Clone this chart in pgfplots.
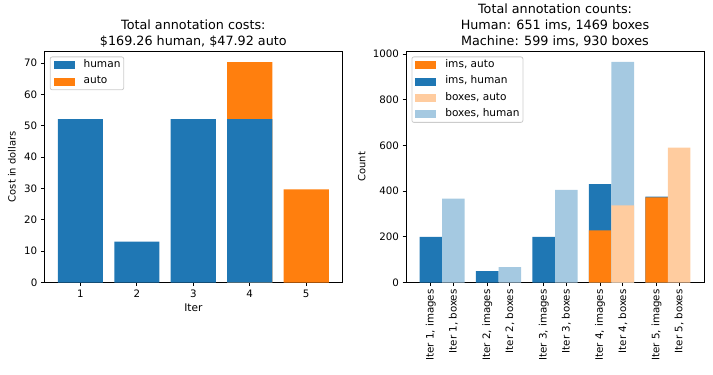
\documentclass[border=0pt]{standalone}
\usepackage{fontspec}
\setmainfont{DejaVu Sans}
\usepackage{pgfplots}
\pgfplotsset{compat=1.18}
\definecolor{tblue}{HTML}{1F77B4}
\definecolor{torange}{HTML}{FF7F0E}
\definecolor{lblue}{RGB}{165,201,225}
\definecolor{lorange}{RGB}{255,204,159}
\pgfplotsset{
  patch/.style={legend image code/.code={\fill[#1, sharp corners] (0bp,-3.5bp) rectangle (20bp,3.5bp);}},
  myaxis/.style={
    scale only axis, width=298bp, height=231.5bp,
    axis line style={line width=0.8bp},
    every tick/.style={black, line width=0.8bp},
    tick align=outside, major tick length=3.5bp,
    xtick pos=left, ytick pos=left,
    ticklabel style={font=\fontsize{10.3}{12}\selectfont},
    /pgf/number format/assume math mode=true,
    /pgf/number format/1000 sep={},
    label style={font=\fontsize{10.6}{12}\selectfont},
    title style={font=\fontsize{12.8}{16}\selectfont, align=center, at={(0.5,1)}, anchor=south, inner sep=0pt, yshift=-2.5bp},
    xmin=0.36, xmax=5.64, ymin=0,
    enlargelimits=false,
    legend cell align=left,
    legend style={at={(0,1)}, anchor=north west, xshift=5.5bp, yshift=-5.5bp,
      draw=black!20, line width=0.8bp, rounded corners=2bp, fill=white,
      font=\fontsize{10.6}{12}\selectfont, inner xsep=3.3bp, inner ysep=3.3bp,
      row sep=6.3bp,
      nodes={inner xsep=0pt, inner ysep=0pt, text height=7.5bp, text depth=2.5bp},
      /tikz/every odd column/.append style={column sep=9.3bp}},
  }
}
\begin{document}
\begin{tikzpicture}
\useasboundingbox (0,0) rectangle (713bp,375bp);
% Left axis
\begin{axis}[myaxis, at={(44.3bp,92.5bp)},
  title={Total annotation costs:\\\$169.26 human, \$47.92 auto},
  ymax=73.8, ytick={0,10,...,70}, xtick={1,2,3,4,5},
  xlabel={Iter}, ylabel={Cost in dollars},
  xlabel style={at={(axis description cs:0.5,0)}, anchor=north, inner sep=0pt, yshift=-21.5bp},
  every axis y label/.style={at={(axis description cs:-0.1084,0.5)}, anchor=center, rotate=90},
]
\addlegendimage{patch=tblue}\addlegendentry{human}
\addlegendimage{patch=torange}\addlegendentry{auto}
\addplot[ybar, bar width=0.8, bar shift=0pt, fill=torange, draw=none, forget plot] coordinates {(4,70.28) (5,29.72)};
\addplot[ybar, bar width=0.8, bar shift=0pt, fill=tblue, draw=none, forget plot] coordinates {(1,52.08) (2,13.02) (3,52.08) (4,52.08)};
\end{axis}
% Right axis
\begin{axis}[myaxis, at={(406bp,92.5bp)},
  title={Total annotation counts:\\Human: 651 ims, 1469 boxes\\Machine: 599 ims, 930 boxes},
  ymax=1013, ytick={0,200,...,1000},
  xtick={0.8,1.2,1.8,2.2,2.8,3.2,3.8,4.2,4.8,5.2},
  xticklabels={{Iter 1, images},{Iter 1, boxes},{Iter 2, images},{Iter 2, boxes},{Iter 3, images},{Iter 3, boxes},{Iter 4, images},{Iter 4, boxes},{Iter 5, images},{Iter 5, boxes}},
  xticklabel style={rotate=90, anchor=east},
  ylabel={Count},
  every axis y label/.style={at={(axis description cs:-0.1485,0.5)}, anchor=center, rotate=90},
]
\addlegendimage{patch=torange}\addlegendentry{ims, auto}
\addlegendimage{patch=tblue}\addlegendentry{ims, human}
\addlegendimage{patch=lorange}\addlegendentry{boxes, auto}
\addlegendimage{patch=lblue}\addlegendentry{boxes, human}
\addplot[ybar, bar width=0.4, bar shift=0pt, fill=tblue, draw=none, forget plot] coordinates {(0.8,200) (1.8,50) (2.8,200) (3.8,430) (4.8,376)};
\addplot[ybar, bar width=0.4, bar shift=0pt, fill=torange, draw=none, forget plot] coordinates {(3.8,228) (4.8,373)};
\addplot[ybar, bar width=0.4, bar shift=0pt, fill=lblue, draw=none, forget plot] coordinates {(1.2,367) (2.2,67) (3.2,405) (4.2,965)};
\addplot[ybar, bar width=0.4, bar shift=0pt, fill=lorange, draw=none, forget plot] coordinates {(4.2,338) (5.2,590)};
\end{axis}
\end{tikzpicture}
\end{document}
